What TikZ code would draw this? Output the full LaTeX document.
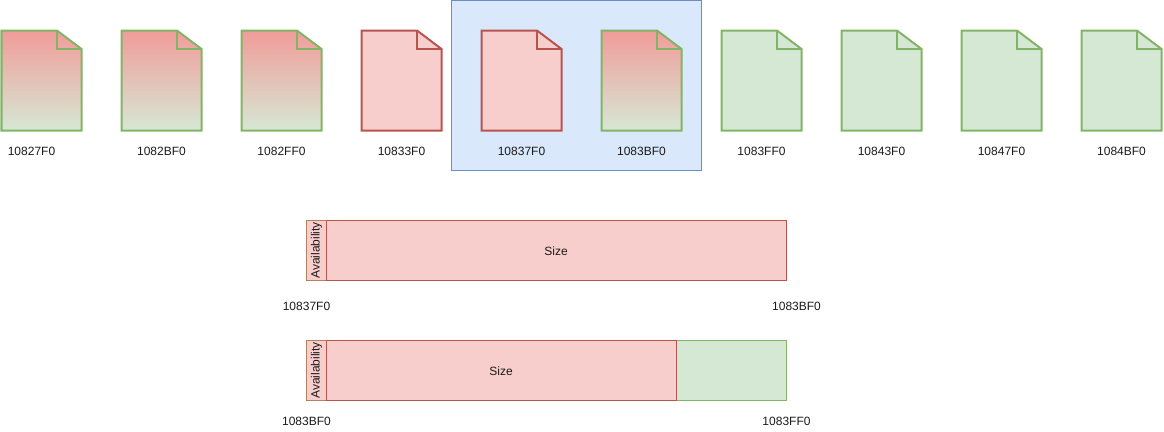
\documentclass[tikz,border=0pt]{standalone}
\usepackage{fontspec}
\setmainfont{Liberation Sans}
\definecolor{rfill}{HTML}{F8CECC}
\definecolor{rline}{HTML}{B85450}
\definecolor{gfill}{HTML}{D5E8D4}
\definecolor{gline}{HTML}{82B366}
\definecolor{bfill}{HTML}{DAE8FC}
\definecolor{bline}{HTML}{6C8EBF}
\definecolor{grad}{HTML}{F19C99}
\definecolor{txt}{HTML}{1A1A1A}
\definecolor{brn}{HTML}{B17F62}
\tikzset{
  x=0.75pt,y=-0.75pt,
  lbl/.style={font=\fontsize{9}{11}\selectfont,text=txt,inner sep=0pt,anchor=center},
  docline/.style={line width=1.5pt,line join=miter},
  docgrad/.style={docline,draw=gline,top color=grad,bottom color=gfill,shading angle=0},
  docred/.style={docline,draw=rline,fill=rfill},
  docgreen/.style={docline,draw=gline,fill=gfill},
  barred/.style={draw=rline,fill=rfill,line width=0.8pt},
  bargreen/.style={draw=gline,fill=gfill,line width=0.8pt},
  baravail/.style={draw=brn,fill=rfill,line width=0.8pt},
}
\begin{document}
\begin{tikzpicture}
\useasboundingbox (0,0) rectangle (1164,432);
\node[draw=bline,fill=bfill,line width=0.75pt,minimum width=187.5pt,minimum height=127.5pt,inner sep=0pt,anchor=north west] (sel) at (451,0) {};
\foreach \px/\st/\ln in {1.5/docgrad/gline,121.5/docgrad/gline,241.5/docgrad/gline,361.5/docred/rline,481.5/docred/rline,601.5/docgrad/gline,721.5/docgreen/gline,841.5/docgreen/gline,961.5/docgreen/gline,1081.5/docgreen/gline}{
  \path[\st] (\px,30.5) -- (\px+55.5,30.5) -- (\px+80,49) -- (\px+80,130.5) -- (\px,130.5) -- cycle;
  \draw[docline,draw=\ln] (\px+55.5,30.5) -- (\px+55.5,49) -- (\px+80,49);
}
\node[lbl] (l1) at (31.5,151) {10827F0};
\node[lbl] (l2) at (161.5,151) {1082BF0};
\node[lbl] (l3) at (281.5,151) {1082FF0};
\node[lbl] (l4) at (401.5,151) {10833F0};
\node[lbl] (l5) at (521.5,151) {10837F0};
\node[lbl] (l6) at (641.5,151) {1083BF0};
\node[lbl] (l7) at (761.5,151) {1083FF0};
\node[lbl] (l8) at (881.5,151) {10843F0};
\node[lbl] (l9) at (1001.5,151) {10847F0};
\node[lbl] (l10) at (1121.5,151) {1084BF0};
% first bar
\draw[barred] (326.5,220.5) rectangle (786.5,280.5);
\draw[baravail] (306.5,220.5) rectangle (326.5,280.5);
\draw[rline,line width=0.8pt] (326.5,220.5) -- (326.5,280.5);
\node[lbl,rotate=90] (av1) at (316.5,250.5) {Availability};
\node[lbl] (s1) at (556,251) {Size};
\node[lbl] (a1) at (306.5,306) {10837F0};
\node[lbl] (b1) at (796.5,306) {1083BF0};
% second bar
\draw[bargreen] (676.5,340.5) rectangle (786.5,400.5);
\draw[barred] (326.5,340.5) rectangle (676.5,400.5);
\draw[baravail] (306.5,340.5) rectangle (326.5,400.5);
\draw[rline,line width=0.8pt] (326.5,340.5) -- (326.5,400.5);
\node[lbl,rotate=90] (av2) at (316.5,370.5) {Availability};
\node[lbl] (s2) at (501,371) {Size};
\node[lbl] (a2) at (306.5,421) {1083BF0};
\node[lbl] (b2) at (786.5,421) {1083FF0};
\end{tikzpicture}
\end{document}
